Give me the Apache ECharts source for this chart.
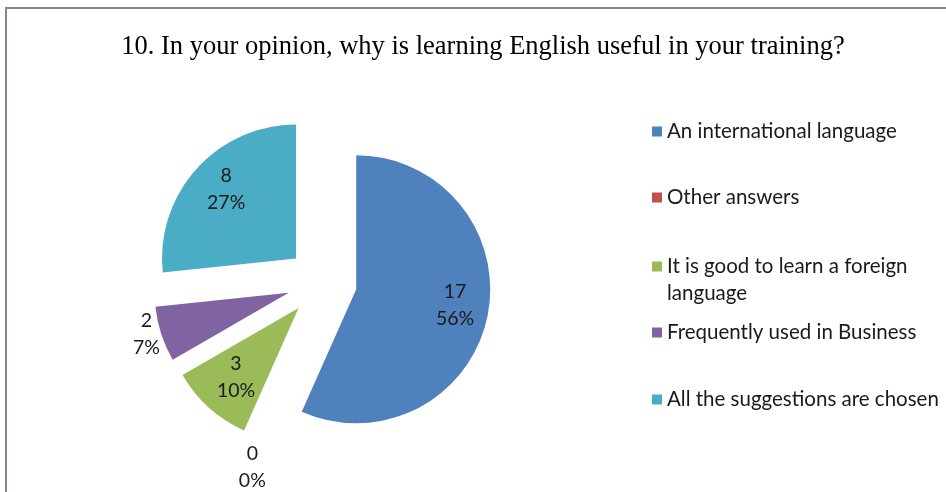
<!DOCTYPE html>
<html>
<head>
<meta charset="utf-8">
<script src="https://cdn.jsdelivr.net/npm/echarts@6/dist/echarts.min.js"></script>
<style>
  html, body { margin: 0; padding: 0; background: #fff; }
  #chart { width: 946px; height: 492px; }
</style>
</head>
<body>
<div id="chart"></div>
<script>
// data
const answers = [
  "An international language",
  "Other answers",
  "It is good to learn a foreign language",
  "Frequently used in Business",
  "All the suggestions are chosen",
];
const counts = [17, 0, 3, 2, 8];
const percents = [56, 0, 10, 7, 27];
const colors = ["#4F81BD", "#C0504D", "#9BBB59", "#8064A2", "#4BACC6"];

const titleText = "10. In your opinion, why is learning English useful in your training?";

const pieCenter = [322, 282];
const labelFont = "Lato";

function labelText(i) {
  return counts[i] + "\n" + percents[i] + "%";
}

// transparent pie used only to place labels (pie puts inside labels at r/2)
function labelSeries(radius, shown, shift) {
  return {
    type: "pie",
    center: [pieCenter[0] + shift[0], pieCenter[1] + shift[1]],
    radius: [0, radius],
    startAngle: 90,
    clockwise: true,
    silent: true,
    selectedMode: "multiple",
    selectedOffset: 35,
    avoidLabelOverlap: false,
    labelLine: { show: false },
    emphasis: { disabled: true },
    z: 3,
    data: answers.map((n, i) => ({
      name: n,
      value: counts[i],
      selected: true,
      itemStyle: { color: "rgba(0,0,0,0)", borderWidth: 0 },
      label: {
        show: shown.indexOf(i) >= 0,
        position: "inside",
        formatter: () => labelText(i),
        fontFamily: labelFont,
        fontSize: 19.5,
        lineHeight: 27,
        color: "#1a1a1a",
      },
    })),
  };
}

function legendItem(i, top, extra) {
  return Object.assign({
    data: [answers[i]],
    left: 652,
    top: top,
    orient: "vertical",
    padding: 0,
    icon: "rect",
    itemWidth: 10,
    itemHeight: 10,
    selectedMode: false,
    textStyle: {
      fontFamily: labelFont,
      fontSize: 20.5,
      lineHeight: 27,
      color: "#1a1a1a",
      width: 275,
      overflow: "break",
    },
  }, extra || {});
}

const chart = echarts.init(document.getElementById("chart"));
chart.setOption({
  backgroundColor: "#fff",
  animation: false,
  title: {
    text: titleText,
    left: 478,
    textAlign: "center",
    top: 29,
    textStyle: {
      fontFamily: "Liberation Serif",
      fontWeight: "normal",
      fontSize: 26.5,
      color: "#000",
    },
  },
  graphic: [{
    type: "polyline",
    shape: { points: [[6, 500], [6, 8], [960, 8]] },
    style: { stroke: "#7f8a8a", lineWidth: 2, fill: null },
    silent: true,
  }],
  legend: [
    legendItem(0, 118),
    legendItem(1, 184),
    // empty first line keeps the icon level with the first text line
    legendItem(2, 226, { formatter: (n) => "\n" + n }),
    legendItem(3, 319),
    legendItem(4, 386),
  ],
  series: [
    {
      type: "pie",
      center: pieCenter,
      radius: [0, 134],
      startAngle: 90,
      clockwise: true,
      selectedMode: "multiple",
      selectedOffset: 35,
      avoidLabelOverlap: false,
      label: { show: false },
      labelLine: { show: false },
      emphasis: { disabled: true },
      data: answers.map((n, i) => ({
        name: n,
        value: counts[i],
        selected: true,
        itemStyle: { color: colors[i] },
      })),
    },
    labelSeries(190, [0, 2, 4], [3, -4]),
    labelSeries(306, [3], [6, -7]),
    labelSeries(306, [1], [8, 11]),
  ],
});
</script>
</body>
</html>
